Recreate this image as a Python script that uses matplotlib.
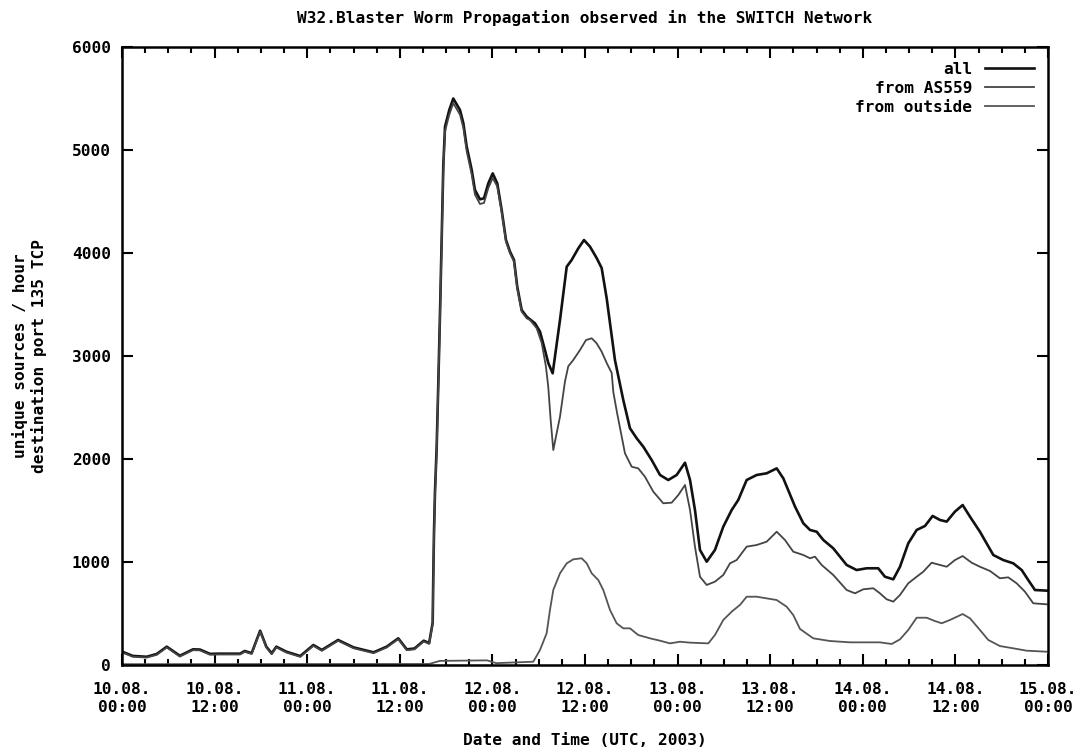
import matplotlib
matplotlib.use("Agg")
import matplotlib.pyplot as plt
from matplotlib.ticker import MultipleLocator, FixedLocator

# hours since 10.08.2003 00:00 UTC
all_h = [0, 1.4, 3.2, 4.5, 5.8, 7.5, 9.2, 10.1, 11.4, 12.5, 15.3, 15.9, 16.8, 17.9,
         18.7, 19.4, 20.0, 21.3, 23.1, 24.8, 25.9, 28.0, 30.0, 32.6, 34.3, 35.8,
         36.9, 37.9, 39.1, 39.8, 40.26, 40.34, 40.43, 40.56, 40.78, 40.99, 41.21,
         41.43, 41.64, 41.86, 42.41, 42.93, 43.8, 44.23, 44.67, 45.32, 45.74, 46.39,
         46.91, 47.47, 48.04, 48.63, 49.2, 49.76, 50.28, 50.8, 51.22, 51.79, 52.44,
         53.52, 54.17, 54.81, 55.24, 55.81, 56.76, 57.63, 58.27, 59.13, 59.87, 60.65,
         61.51, 62.16, 62.81, 63.88, 64.96, 65.83, 66.7, 67.55, 68.64, 69.72, 70.79,
         71.88, 72.96, 73.61, 74.25, 74.9, 75.77, 76.84, 77.92, 79.01, 79.86, 80.95,
         82.25, 83.54, 84.84, 85.7, 87.22, 88.29, 89.16, 90.02, 90.88, 92.17, 93.91,
         95.2, 96.5, 98.0, 98.87, 99.95, 100.82, 101.89, 102.98, 104.06, 105.05, 106.0,
         106.87, 107.94, 108.94, 109.89, 111.18, 112.91, 114.2, 115.5, 116.59, 117.44,
         118.31, 119.83]
all_v = [130, 88, 80, 107, 178, 90, 152, 150, 108, 110, 110, 136, 115, 333,
         178, 113, 178, 129, 87, 194, 146, 243, 171, 123, 178, 259,
         152, 160, 236, 213, 410, 857, 1280, 1683, 2120, 2735, 3417,
         4146, 4854, 5226, 5388, 5500, 5388, 5262, 5032, 4806, 4612, 4521,
         4531, 4676, 4773, 4676, 4417, 4126, 4013, 3932, 3673, 3447, 3382,
         3317, 3236, 3058, 2932, 2832, 3350, 3867, 3932, 4045, 4126, 4061,
         3951, 3854, 3560, 2961, 2573, 2298, 2201, 2120, 1990, 1845, 1796,
         1845, 1964, 1796, 1505, 1117, 1003, 1117, 1343, 1505, 1602, 1796,
         1845, 1861, 1909, 1812, 1537, 1376, 1311, 1294, 1214, 1133, 971,
         922, 939, 939, 857, 832, 954, 1181, 1311, 1350, 1447, 1408,
         1392, 1489, 1553, 1440, 1294, 1068, 1019, 987, 922, 825,
         728, 722]

as559_h = [0, 1.4, 3.2, 4.5, 5.8, 7.5, 9.2, 10.1, 11.4, 12.5, 15.3, 15.9, 16.8, 17.9,
           18.7, 19.4, 20.0, 21.3, 23.1, 24.8, 25.9, 28.0, 30.0, 32.6, 34.3, 35.8,
           36.9, 37.9, 39.1, 39.8, 40.26, 40.34, 40.43, 40.56, 40.78, 40.99, 41.21,
           41.43, 41.64, 41.86, 42.41, 42.93, 43.8, 44.23, 44.67, 45.32, 45.74, 46.39,
           46.91, 47.47, 48.04, 48.63, 49.2, 49.76, 50.28, 50.8, 51.22, 51.79, 52.44,
           52.87, 53.74, 54.39, 54.94, 55.24, 55.55, 55.89, 56.76, 57.4, 57.83, 58.48,
           59.35, 60.13, 60.87, 61.51, 62.16, 62.81, 63.46, 63.67, 64.15, 65.18, 66.05,
           66.9, 67.77, 68.85, 70.14, 71.23, 72.09, 72.96, 73.61, 74.25, 74.9, 75.77,
           76.84, 77.92, 78.79, 79.65, 80.95, 82.25, 83.54, 84.84, 85.91, 86.99, 88.29,
           89.16, 89.8, 90.67, 92.17, 93.91, 94.99, 96.06, 97.36, 98.22, 99.09, 99.95,
           100.82, 101.89, 102.98, 103.84, 104.92, 106.0, 106.87, 107.94, 108.94,
           110.11, 111.18, 112.48, 113.77, 114.85, 115.94, 117.01, 118.09, 119.83]
as559_v = [122, 80, 72, 99, 170, 82, 144, 142, 100, 102, 102, 128, 107, 325,
           170, 105, 170, 121, 79, 186, 138, 235, 163, 115, 170, 251,
           144, 152, 228, 205, 400, 840, 1250, 1650, 2080, 2700, 3380,
           4105, 4810, 5182, 5343, 5455, 5343, 5217, 4987, 4761, 4567, 4476,
           4486, 4631, 4728, 4646, 4400, 4110, 3997, 3916, 3657, 3431, 3366,
           3350, 3269, 3126, 2896, 2700, 2379, 2087, 2411, 2750, 2900, 2961,
           3058, 3155, 3172, 3123, 3042, 2932, 2835, 2650, 2450, 2055, 1925,
           1909, 1828, 1683, 1570, 1576, 1650, 1748, 1505, 1149, 857, 777,
           809, 874, 987, 1019, 1149, 1165, 1197, 1294, 1214, 1100, 1068,
           1036, 1052, 971, 874, 728, 696, 735, 745, 696, 638, 615,
           680, 793, 857, 906, 993, 971, 954, 1019, 1058,
           993, 954, 913, 842, 851, 793, 712, 599, 589]

outside_h = [0, 39.8, 41.2, 47.3, 48.5, 53.3, 54.17, 55.03, 55.46, 55.89, 56.76, 57.63,
             58.48, 59.57, 60.22, 60.87, 61.72, 62.37, 63.24, 64.1, 64.96, 65.83, 66.9,
             68.42, 69.72, 71.01, 72.31, 73.61, 75.98, 76.84, 77.92, 79.01, 80.08, 80.95,
             82.25, 83.54, 84.84, 86.13, 86.99, 87.86, 89.58, 91.74, 94.33, 98.22, 99.74,
             100.82, 101.89, 102.98, 104.27, 105.35, 106.22, 107.29, 108.94, 109.89,
             111.18, 112.26, 113.77, 115.5, 117.23, 119.83]
outside_v = [8, 10, 40, 45, 18, 32, 146, 308, 534, 728, 890, 987,
             1026, 1036, 987, 890, 825, 728, 534, 405, 356, 356, 291,
             259, 236, 210, 226, 217, 210, 291, 437, 518, 583, 663,
             663, 647, 631, 566, 485, 350, 259, 233, 220, 220, 204,
             249, 340, 459, 459, 427, 405, 437, 495, 453,
             340, 243, 184, 162, 139, 129]

tick_hours = [0, 12, 24, 36, 48, 60, 72, 84, 96, 108, 120]
tick_labels = ["10.08.\n00:00", "10.08.\n12:00", "11.08.\n00:00", "11.08.\n12:00",
               "12.08.\n00:00", "12.08.\n12:00", "13.08.\n00:00", "13.08.\n12:00",
               "14.08.\n00:00", "14.08.\n12:00", "15.08.\n00:00"]

plt.rcParams['font.family'] = ['DejaVu Sans Mono']
plt.rcParams['font.weight'] = 'bold'
plt.rcParams['axes.titleweight'] = 'bold'
plt.rcParams['axes.labelweight'] = 'bold'
plt.rcParams['font.size'] = 11.6

fig = plt.figure(figsize=(10.81, 7.49), dpi=100)
ax = fig.add_axes([122/1081, 1 - 665/749, (1048-122)/1081, (665-47)/749])

ax.plot(all_h, all_v, color="#111111", lw=1.9, label="all")
ax.plot(as559_h, as559_v, color="#444444", lw=1.3, label="from AS559")
ax.plot(outside_h, outside_v, color="#555555", lw=1.3, label="from outside")

ax.set_xlim(0, 120)
ax.set_ylim(0, 6000)
ax.xaxis.set_major_locator(FixedLocator(tick_hours))
ax.set_xticklabels(tick_labels, linespacing=1.3)
ax.xaxis.set_minor_locator(MultipleLocator(3))
ax.yaxis.set_major_locator(MultipleLocator(1000))
ax.tick_params(which="both", direction="in", top=True, right=True, width=1.5)
ax.tick_params(which="major", length=8)
ax.tick_params(axis="x", which="major", pad=12)
ax.tick_params(axis="y", which="major", pad=8)
ax.tick_params(which="minor", length=4)
for s in ax.spines.values():
    s.set_linewidth(1.8)

ax.set_title("W32.Blaster Worm Propagation observed in the SWITCH Network",
             fontsize=11.6, pad=17)
ax.set_xlabel("Date and Time (UTC, 2003)", labelpad=13)
ax.set_ylabel("unique sources / hour\ndestination port 135 TCP", labelpad=18,
              linespacing=1.25)

leg = ax.legend(loc="upper right", frameon=False, markerfirst=False,
                handlelength=3.0, handletextpad=0.8, labelspacing=0.25,
                borderaxespad=0.5)

fig.savefig("out.png", dpi=100)
